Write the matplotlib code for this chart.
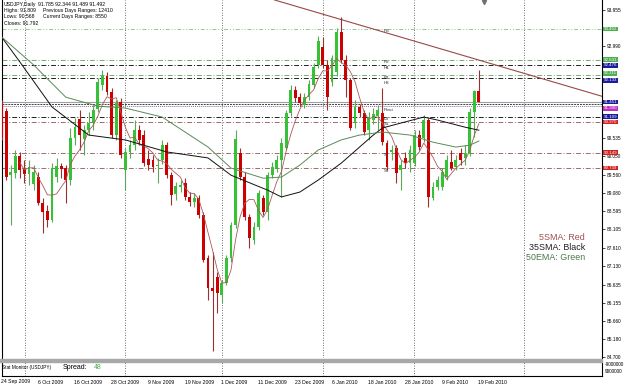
import numpy as np
import pandas as pd
import matplotlib
matplotlib.use('Agg')
from matplotlib import pyplot as plt
from matplotlib.transforms import blended_transform_factory, offset_copy
from matplotlib.patches import Rectangle

plt.rcParams['font.family'] = ['Liberation Sans', 'DejaVu Sans']

# USDJPY daily bars, 24 Sep 2009 .. 19 Feb 2010
opens = [91.42, 91.26, 89.55, 89.61, 90.06, 89.71, 89.58, 89.31, 89.50, 88.81,
         88.59, 88.35, 89.50, 89.79, 89.74, 89.42, 90.54, 91.05, 90.51, 90.75,
         90.94, 91.31, 91.95, 92.19, 91.77, 90.62, 91.50, 89.69, 90.17, 90.35,
         90.75, 90.62, 89.98, 89.95, 89.79, 89.95, 90.35, 89.55, 89.05, 89.23,
         89.34, 88.97, 88.83, 88.94, 88.49, 87.34, 86.54, 86.83, 86.35, 86.67,
         87.34, 88.22, 90.14, 89.50, 88.43, 87.82, 88.17, 88.94, 88.57, 89.55,
         89.74, 89.95, 90.27, 91.21, 91.82, 91.63, 91.42, 91.63, 91.95, 92.49,
         92.97, 92.49, 92.03, 92.30, 93.37, 92.62, 92.09, 90.97, 91.37, 91.21,
         90.75, 91.02, 91.13, 91.21, 90.41, 90.17, 90.27, 89.69, 90.01, 89.87,
         89.87, 90.62, 90.54, 91.02, 88.94, 89.23, 89.23, 89.50, 89.90, 89.77,
         90.14, 90.01, 90.14, 91.23, 91.785]
highs = [91.55, 91.34, 89.82, 90.22, 90.17, 89.95, 89.95, 89.82, 89.63, 88.94,
         88.75, 89.87, 90.01, 89.87, 89.82, 90.81, 91.07, 91.29, 90.89, 91.23,
         91.42, 92.14, 92.35, 92.30, 91.87, 91.55, 91.61, 90.27, 90.49, 91.02,
         90.89, 90.75, 90.22, 90.09, 90.01, 90.49, 90.43, 89.63, 89.37, 89.42,
         89.47, 89.10, 89.07, 89.02, 88.57, 87.42, 87.50, 86.97, 86.75, 87.42,
         88.30, 90.75, 90.27, 89.63, 88.51, 88.30, 89.15, 89.02, 89.63, 89.90,
         90.09, 90.54, 91.29, 91.95, 91.93, 91.74, 91.74, 92.09, 92.54, 93.26,
         93.24, 92.62, 92.75, 93.47, 93.77, 92.75, 92.14, 91.55, 91.45, 91.29,
         91.23, 91.34, 91.42, 91.87, 90.49, 90.35, 90.35, 89.95, 90.17, 90.35,
         90.75, 90.75, 91.15, 91.07, 89.37, 89.53, 89.74, 90.09, 90.22, 90.09,
         90.27, 90.35, 91.34, 91.809, 92.344]
lows = [90.49, 89.42, 88.22, 89.47, 89.47, 89.34, 89.29, 89.15, 88.75, 88.01,
        88.17, 88.30, 89.37, 89.47, 88.81, 89.29, 90.35, 90.22, 90.09, 90.62,
        90.75, 91.23, 91.82, 91.69, 90.54, 90.49, 90.01, 89.15, 90.01, 90.22,
        90.35, 89.79, 89.69, 89.63, 89.34, 89.85, 89.47, 88.75, 88.89, 89.10,
        88.89, 88.73, 88.70, 88.41, 87.23, 86.22, 84.86, 85.87, 86.14, 86.62,
        87.23, 88.14, 89.42, 88.35, 87.61, 87.71, 88.09, 88.49, 88.35, 89.47,
        89.63, 88.97, 90.22, 91.13, 91.50, 91.39, 91.34, 91.55, 91.87, 92.41,
        92.41, 91.29, 91.93, 92.19, 92.54, 91.63, 90.75, 90.81, 91.10, 90.62,
        90.49, 90.91, 90.75, 90.35, 89.69, 89.95, 89.34, 89.15, 89.74, 89.63,
        89.79, 90.22, 90.43, 88.70, 88.89, 89.15, 89.15, 89.42, 89.69, 89.69,
        89.82, 89.82, 90.06, 90.568, 91.489]
closes = [90.54, 89.50, 89.63, 90.06, 89.69, 89.58, 89.77, 89.63, 88.81, 88.57,
          88.35, 89.74, 89.79, 89.71, 89.42, 90.54, 90.83, 90.62, 90.75, 90.94,
          91.29, 92.03, 92.19, 91.77, 90.62, 91.47, 90.09, 90.17, 90.35, 90.75,
          90.49, 89.87, 89.82, 89.77, 89.82, 90.35, 89.55, 89.02, 89.26, 89.29,
          88.97, 88.83, 88.94, 88.49, 87.29, 86.54, 86.46, 86.41, 86.67, 87.34,
          88.22, 90.51, 89.50, 88.43, 87.87, 88.17, 89.07, 88.57, 89.55, 89.77,
          89.95, 90.41, 91.21, 91.82, 91.61, 91.47, 91.63, 91.98, 92.43, 93.13,
          92.49, 91.63, 92.67, 93.37, 92.62, 92.09, 90.81, 91.37, 91.21, 90.70,
          91.10, 91.18, 91.29, 90.43, 89.77, 90.22, 89.61, 89.82, 89.87, 90.22,
          90.62, 90.30, 91.02, 88.97, 89.23, 89.42, 89.63, 89.95, 89.74, 89.95,
          89.95, 90.14, 91.23, 91.792, 91.492]

date_labels = ['24 Sep 2009', '6 Oct 2009', '16 Oct 2009', '28 Oct 2009', '9 Nov 2009',
               '19 Nov 2009', '1 Dec 2009', '11 Dec 2009', '23 Dec 2009', '6 Jan 2010',
               '18 Jan 2010', '28 Jan 2010', '9 Feb 2010', '19 Feb 2010']
date_label_bars = [0, 8, 16, 24, 32, 40, 48, 56, 64, 72, 80, 88, 96, 104]

# 35 SMA and 50 EMA (they need history before the window)
sma35_bars = [0, 4, 11, 19, 27, 36, 45, 50, 58, 61, 65, 69, 74, 81, 83, 87, 92, 95, 101, 104]
sma35_vals = [93.24, 92.57, 91.37, 90.62, 90.49, 90.17, 90.01, 89.55, 89.15, 88.97,
              89.10, 89.42, 89.87, 90.62, 90.81, 90.94, 91.10, 91.02, 90.83, 90.75]
ema50_bars = [0, 7, 14, 21, 27, 35, 45, 50, 57, 61, 65, 69, 74, 78, 83, 89, 94, 99, 102, 104]
ema50_vals = [93.24, 92.49, 91.63, 91.39, 91.34, 91.10, 90.30, 89.74, 89.47, 89.50,
              89.82, 90.22, 90.49, 90.62, 90.70, 90.62, 90.43, 90.30, 90.35, 90.46]

pivot_names = ['R3', 'R2', 'H4', 'R1', 'H3', 'L3', 'Pivot', 'L4', 'S1', 'S2', 'S3']
pivot_values = [93.452, 92.631, 92.476, 92.211, 92.133, 91.451, 91.390, 91.109, 90.970, 90.149, 89.739]
bid_price = 91.492

# price scale labels that are not covered by the level boxes
price_ticks = [93.955, 92.990, 90.535, 90.050, 89.560, 89.080, 88.595, 88.105,
               87.610, 87.130, 86.635, 86.155, 85.660, 85.180, 84.700]

trend_bars = [74, 104]
trend_prices = [93.70, 92.62]

# ---------------------------------------------------------------
W, H = 625, 385
BAR0, BARW = 1.5, 4.59            # pixel of bar 0, pixels per bar
PX_TOP_PRICE, PX_PER_YEN = 94.2217, 37.5

def fbox(l, t, r, b):
    return [l / W, 1 - b / H, (r - l) / W, (b - t) / H]

def bar_at(px):
    return (px - BAR0) / BARW

fig = plt.figure(figsize=(W / 100, H / 100), dpi=100)
fig.patch.set_facecolor('white')
ax = fig.add_axes(fbox(2, 0, 602, 358))
axp = fig.add_axes(fbox(2, 362, 602, 376))

x = np.arange(len(closes))
o = np.array(opens); h = np.array(highs); l = np.array(lows); c = np.array(closes)
up = c >= o

ax.set_xlim(bar_at(2), bar_at(602))
ax.set_ylim(PX_TOP_PRICE - 358 / PX_PER_YEN, PX_TOP_PRICE)

# grid
grid_bars = [bar_at(p) for p in (25, 125, 222, 323, 414, 524)]
for g in grid_bars:
    ax.axvline(g, color='#404040', lw=0.6, ls=(0, (1, 2)), zorder=0)
    axp.axvline(g, color='#404040', lw=0.6, ls=(0, (1, 2)), zorder=0)

# pivot / camarilla levels: line colour, dash, tag colour, tag anchor
dd = (0, (5, 2, 1, 2))
lvl_style = {
    'R3': ('#8fc98f', (0, (4, 2, 1, 2, 1, 2)), '#4caf50', 'center'),
    'R2': ('#6fb06f', dd, '#4caf50', 'center'),
    'H4': ('#202020', dd, '#1c1c9c', 'center'),
    'R1': ('#6fb06f', dd, '#4caf50', 'bottom'),
    'H3': ('#202020', dd, '#1c1c9c', 'top'),
    'L3': ('#404040', (0, (2, 1)), '#1c1c9c', 'bottom'),
    'Pivot': ('#9070a0', (0, (1, 1)), '#c030c0', 'top'),
    'L4': ('#202020', dd, '#1c1c9c', 'center'),
    'S1': ('#a06a6a', dd, '#d02020', 'center'),
    'S2': ('#a06a6a', dd, '#d02020', 'center'),
    'S3': ('#a06a6a', dd, '#d02020', 'center'),
}
name_drop = {'H3': 1.2, 'Pivot': 0.8}
lab_tr = blended_transform_factory(ax.transAxes, ax.transData)
for name, val in zip(pivot_names, pivot_values):
    lc, ls, bc, va = lvl_style[name]
    ax.axhline(val, color=lc, lw=0.7, ls=ls, zorder=1)
    if name != 'L3':   # its tag sits under the Pivot tag on the chart
        tr = offset_copy(ax.transData, fig=fig, y=-0.4 - name_drop.get(name, 0), units='points')
        ax.text(bar_at(384), val, name, fontsize=3.2, color='#303030',
                va='top', ha='left', zorder=5, transform=tr)
    ax.text(1.003, val, '%.3f' % val, transform=lab_tr, fontsize=3.2, color='white',
            va=va, ha='left', clip_on=False, zorder=10,
            bbox=dict(boxstyle='square,pad=0.08', fc=bc, ec='none'))
ax.axhline(bid_price, color='#a0a0a0', lw=0.8, zorder=1)

# trend line
ax.axline((trend_bars[0], trend_prices[0]), (trend_bars[1], trend_prices[1]),
          color='#9a4848', lw=0.8, zorder=2)

# candles
body_col = np.where(up, '#36c236', '#cc0000')
wick_col = np.where(up, '#5aa85a', '#9a3030')
ax.vlines(x, l, h, colors=wick_col, lw=0.8, zorder=3)
ax.bar(x, np.maximum(np.abs(c - o), 0.03), bottom=np.minimum(o, c), width=0.62,
       color=body_col, edgecolor='none', zorder=4)

# moving averages
sma5 = pd.Series(closes).rolling(5).mean()
ax.plot(x, sma5, color='#a85a5a', lw=0.6, zorder=5)
ax.plot(sma35_bars, sma35_vals, color='#101010', lw=0.7, zorder=5)
ax.plot(ema50_bars, ema50_vals, color='#5a8a5a', lw=0.7, zorder=5)

# axes cosmetics
for s in ('top', 'bottom'):
    ax.spines[s].set_visible(False)
for s in ('left', 'right'):
    ax.spines[s].set_linewidth(0.8)
ax.set_xticks([])
ax.yaxis.tick_right()
ax.set_yticks(price_ticks)
ax.set_yticklabels(['%.3f' % t for t in price_ticks])
ax.tick_params(axis='y', labelsize=3.4, length=2, width=0.5, pad=1.5, colors='black')

axp.set_xlim(ax.get_xlim())
axp.set_ylim(0, 1)
axp.set_xticks([])
axp.set_yticks([])
axp.spines['top'].set_visible(False)
for s in ('left', 'right', 'bottom'):
    axp.spines[s].set_linewidth(0.8)

# separator between windows
fig.patches.append(Rectangle((0, 1 - 361.5 / H), 602 / W, 3 / H,
                             transform=fig.transFigure, color='#a8a8a8', zorder=0))

# header text
def ftext(px, py, s, **kw):
    fig.text(px / W, 1 - py / H, s, va='center', ha=kw.pop('ha', 'left'), **kw)

ftext(4, 4.7, 'USDJPY,Daily', fontsize=3.7)
ftext(38.5, 4.7, '91.785 92.344 91.489 91.492', fontsize=3.7)
ftext(4, 10.5, 'Highs: 91.809', fontsize=3.7)
ftext(43, 10.5, 'Previous Days Ranges: 12410', fontsize=3.7)
ftext(4, 16.8, 'Lows: 90.568', fontsize=3.7)
ftext(43, 16.8, 'Current Days Ranges: 8550', fontsize=3.7)
ftext(4, 23.5, 'Closes: 91.792', fontsize=3.7)

# legend text
ftext(585, 237, '5SMA: Red', fontsize=6.4, color='#a05050', ha='right')
ftext(585, 247, '35SMA: Black', fontsize=6.4, color='#202020', ha='right')
ftext(585, 258, '50EMA: Green', fontsize=6.4, color='#4a7a4a', ha='right')

# indicator window text
ftext(2.5, 367.5, 'Stat Monitor (USDJPY)', fontsize=3.4)
ftext(63, 367.5, 'Spread:', fontsize=5)
ftext(94, 367.5, '48', fontsize=5, color='#4caf50')
ftext(605, 364.5, '-9000000', fontsize=3.4)
ftext(605, 371.5, '9000000', fontsize=3.4)

# shift marker
ax.plot([bar_at(484)], [PX_TOP_PRICE - 2.5 / PX_PER_YEN], marker='v', ms=3,
        color='#707070', clip_on=False, zorder=6)

# dates
date_tr = blended_transform_factory(ax.transData, fig.transFigure)
for b, s in zip(date_label_bars, date_labels):
    ax.text(b - 0.1, 1 - 382 / H, s, transform=date_tr, fontsize=3.7,
            ha='left', va='center', clip_on=False)

fig.savefig('out.png', dpi=100)
